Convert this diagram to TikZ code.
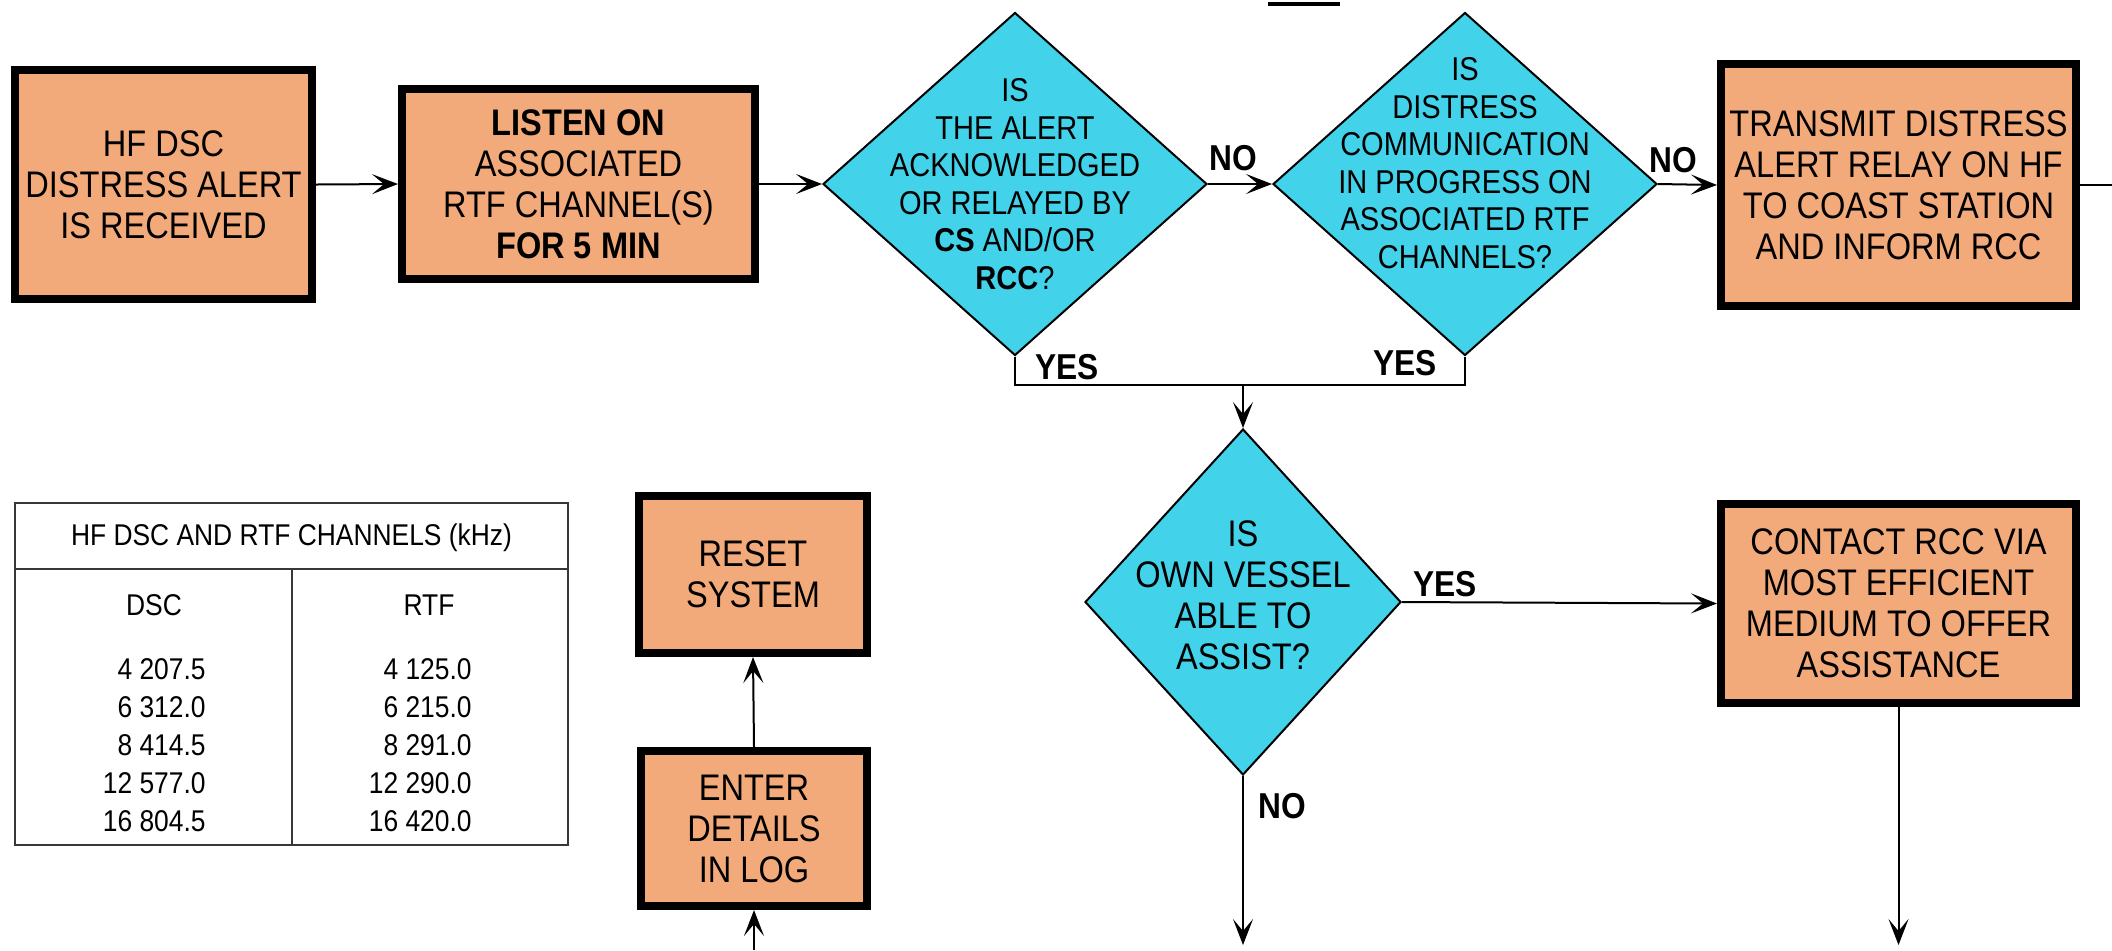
\documentclass[tikz,border=0pt]{standalone}
\usepackage{fontspec}
\setmainfont{Liberation Sans}[FakeStretch=0.88]
\usetikzlibrary{shapes.geometric, arrows.meta, positioning}

\definecolor{boxfill}{RGB}{242,170,122}
\definecolor{askfill}{RGB}{66,210,234}
\definecolor{gridgray}{RGB}{55,55,55}

\tikzset{
	action/.style={draw, line width=4pt, fill=boxfill, inner sep=0pt, align=center,
		font=\fontsize{18.5}{20.5}\selectfont},
	ask/.style={draw, line width=1pt, fill=askfill, diamond, inner sep=0pt,
		minimum width=192pt, minimum height=171.5pt},
	asktext/.style={align=center, inner sep=0pt, font=\fontsize{16.5}{18.75}\selectfont},
	answer/.style={inner sep=0pt, font=\bfseries\fontsize{18}{20}\selectfont},
	flow/.style={line width=1pt, -{Stealth[length=13pt,width=10pt,inset=6pt]}},
	tabline/.style={line width=0.8pt, gridgray},
	tabtext/.style={inner sep=0pt, font=\fontsize{15}{17}\selectfont},
}

\begin{document}
\begin{tikzpicture}[x=0.5pt,y=-0.5pt]
	\useasboundingbox (0,0) rectangle (2112,950);

	% top row
	\node[action, minimum width=148.5pt, minimum height=114.5pt] (rcv) at (163.5,184.5)
		{HF DSC\\DISTRESS ALERT\\IS RECEIVED};
	\node[action, minimum width=176.5pt, minimum height=95pt] (listen) at (578.5,184)
		{\textbf{LISTEN ON}\\ASSOCIATED\\RTF CHANNEL(S)\\\textbf{FOR 5 MIN}};
	\node[ask] (acked) at (1015,184) {};
	\node[asktext] (acked-t) at (1015,184)
		{IS\\THE ALERT\\ACKNOWLEDGED\\OR RELAYED BY\\\textbf{CS} AND/OR\\\textbf{RCC}?};
	\node[ask] (inprog) at (1465,184) {};
	\node[asktext] (inprog-t) at (1465,163)
		{IS\\DISTRESS\\COMMUNICATION\\IN PROGRESS ON\\ASSOCIATED RTF\\CHANNELS?};
	\node[action, minimum width=177.5pt, minimum height=121pt] (relay) at (1898.5,185)
		{TRANSMIT DISTRESS\\ALERT RELAY ON HF\\TO COAST STATION\\AND INFORM RCC};

	% lower part
	\node[ask, minimum width=158pt, minimum height=173pt] (able) at (1243,602) {};
	\node[asktext, font=\fontsize{18.5}{20.5}\selectfont] (able-t) at (1243,595)
		{IS\\OWN VESSEL\\ABLE TO\\ASSIST?};
	\node[action, minimum width=177.5pt, minimum height=99.5pt] (contact) at (1898.5,603.5)
		{CONTACT RCC VIA\\MOST EFFICIENT\\MEDIUM TO OFFER\\ASSISTANCE};
	\node[action, minimum width=114pt, minimum height=78.5pt] (reset) at (753,574.5)
		{RESET\\SYSTEM};
	\node[action, minimum width=113pt, minimum height=77.5pt] (log) at (754,828.5)
		{ENTER\\DETAILS\\IN LOG};

	% answers
	\node[answer] (no1) at (1233,158) {NO};
	\node[answer] (no2) at (1673,160) {NO};
	\node[answer] (yes1) at (1067,367) {YES};
	\node[answer] (yes2) at (1405,363) {YES};
	\node[answer] (yes3) at (1445,584) {YES};
	\node[answer] (no3) at (1282,806) {NO};

	% connectors
	\draw[flow] (rcv.east) -- (listen.west);
	\draw[flow] (listen.east) -- (acked.west);
	\draw[flow] (acked.east) -- (inprog.west);
	\draw[flow] (inprog.east) -- (relay.west);
	\coordinate (out) at (2112,185);
	\draw[line width=1pt] (relay.east) -- (out);
	\coordinate (join) at (1243,385);
	\draw[line width=1pt] (acked.south) |- (join) -| (inprog.south);
	\draw[flow] (join) -- (able.north);
	\draw[flow] (able.east) -- (contact.west);
	\coordinate (ableout) at (1243,945);
	\draw[flow] (able.south) -- (ableout);
	\coordinate (contactout) at (1898.5,945);
	\draw[flow] (contact.south) -- (contactout);
	\coordinate (login) at (754,950);
	\draw[flow] (login) -- (log.south);
	\draw[flow] (log.north) -- (reset.south);

	% channel table
	\draw[tabline] (15,503) rectangle (568,845);
	\draw[tabline] (15,569) -- (568,569);
	\draw[tabline] (292,569) -- (292,845);
	\node[tabtext] (tabhead) at (291.5,538) {HF DSC AND RTF CHANNELS (kHz)};
	\node[tabtext] (dschead) at (154,605) {DSC};
	\node[tabtext] (rtfhead) at (429,605) {RTF};
	\foreach \dsc/\rtf [count=\i from 0] in {4 207.5/4 125.0, 6 312.0/6 215.0,
			8 414.5/8 291.0, 12 577.0/12 290.0, 16 804.5/16 420.0}
	{
		\node[tabtext, anchor=east] (dsc\i) at (206,669+38*\i) {\dsc};
		\node[tabtext, anchor=east] (rtf\i) at (472,669+38*\i) {\rtf};
	}

	% underline of the cut title
	\draw[line width=2pt] (1268,3.5) -- (1340,3.5);
\end{tikzpicture}
\end{document}
